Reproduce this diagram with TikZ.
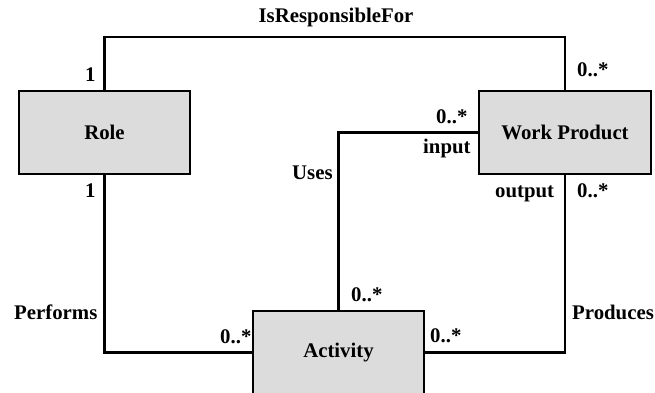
\documentclass[tikz,border=0pt]{standalone}
\usepackage{fontspec}
\setmainfont{Liberation Serif}
\begin{document}
\begin{tikzpicture}[x=1pt,y=-1pt,
  every node/.style={font=\fontsize{20.8}{24}\selectfont\bfseries, inner sep=0pt},
  classbox/.style={draw, line width=2.5pt, fill=boxgray, minimum width=171pt, minimum height=83pt},
  assoc/.style={draw, line width=2.5pt},
  lbl/.style={anchor=base west},
  lblr/.style={anchor=base east}]
\definecolor{boxgray}{RGB}{220,220,220}
\clip (0,0) rectangle (655,393);
\fill[white] (0,0) rectangle (655,393);

% classes
\node[classbox] (role) at (104.5,132.5) {\raisebox{-2pt}{Role}};
\node[classbox, minimum width=172pt] (wp) at (565,132.5) {\raisebox{-2pt}{Work Product}};
\node[classbox] (act) at (338.5,352.5) {\raisebox{-2pt}{Activity}};

% associations
\coordinate (top) at (0,37);
\draw[assoc] (role.north) -- (role.north |- top) -- (wp.north |- top) -- (wp.north);
\draw[assoc] (role.south) |- (act.west);
\draw[assoc] (act.east) -| (wp.south);
\draw[assoc] (act.north) |- (wp.west);

% association names
\node[anchor=base] (nresp) at (336,23) {IsResponsibleFor};
\node[lbl] (nperf) at (14,319) {Performs};
\node[lbl] (nprod) at (572,319) {Produces};
\node[lbl] (nuses) at (292,179) {Uses};

% roles and multiplicities
\node[lbl] (m1) at (85,82) {1};
\node[lbl] (m2) at (85,197) {1};
\node[lbl] (m3) at (577,77) {0..*};
\node[lbl] (m4) at (436,123) {0..*};
\node[lbl] (rin) at (423,153) {input};
\node[lbl] (rout) at (495,197) {output};
\node[lbl] (m5) at (577,197) {0..*};
\node[lbl] (m6) at (220,343) {0..*};
\node[lbl] (m7) at (351,301) {0..*};
\node[lbl] (m8) at (430,342) {0..*};
\end{tikzpicture}
\end{document}
